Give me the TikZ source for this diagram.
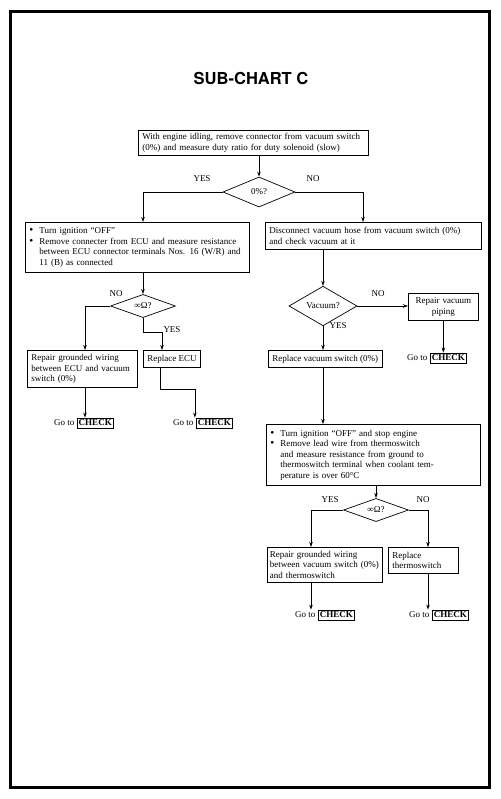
\documentclass[tikz,border=0pt]{standalone}
\usepackage{fontspec}
\setmainfont{Liberation Serif}
\newfontfamily\titlefont{TeX Gyre Heros}
\usetikzlibrary{arrows.meta,shapes.geometric,calc}
\newcommand{\chk}{{\setlength{\fboxsep}{1.5pt}\setlength{\fboxrule}{0.7pt}\fbox{\textbf{CHECK}}}}
\newcommand{\bul}{\makebox[10pt][l]{\smash{\scalebox{1.25}{\textbullet}}}}
\newcommand{\ind}{\hspace*{10pt}}
\begin{document}
\begin{tikzpicture}[x=1pt,y=-1pt,
  every node/.style={font=\fontsize{9}{10.5}\selectfont, inner sep=0pt},
  box/.style={draw, line width=0.7pt, align=left, inner xsep=4pt, inner ysep=3pt, anchor=north west},
  dia/.style={draw, diamond, line width=0.7pt, inner sep=0pt},
  arr/.style={-{Stealth[length=5pt,width=3.5pt]}, line width=0.7pt},
  lbl/.style={font=\fontsize{9}{10}\selectfont},
  goto/.style={font=\fontsize{9}{10}\selectfont}
]
\useasboundingbox (0,0) rectangle (500,799);
\draw[line width=3pt] (10,12) rectangle (489,787);
\node[font=\titlefont\bfseries\fontsize{16.5}{20}\selectfont] (title) at (251,78) {SUB-CHART C};

\node[box, text width=222pt, minimum height=24pt] (T) at (138,130)
  {With engine idling, remove connector from vacuum switch\\(0\%) and measure duty ratio for duty solenoid (slow)};
\node[dia, minimum width=72pt, minimum height=30pt] (D1) at (259,192) {0\%?};
\node[lbl] (y1) at (202,179) {YES};
\node[lbl] (n1) at (313,179) {NO};

\node[box, text width=216pt, minimum height=50pt] (L1) at (25,222)
  {\bul Turn ignition ``OFF''\\
   \bul Remove connecter from ECU and measure resistance\\
   \ind between ECU connector terminals Nos. 16 (W/R) and\\
   \ind 11 (B) as connected};
\node[box, text width=208pt, minimum height=27pt] (R1) at (265,222)
  {Disconnect vacuum hose from vacuum switch (0\%)\\and check vacuum at it};

\node[dia, minimum width=65pt, minimum height=22pt] (D2) at (143,306) {∞Ω?};
\node[lbl] (n2) at (116,294) {NO};
\node[lbl] (y2) at (172,330) {YES};
\node[box, text width=102pt, minimum height=37pt] (L2) at (27,350)
  {Repair grounded wiring\\between ECU and vacuum\\switch (0\%)};
\node[box, minimum height=17pt] (L3) at (143,350) {Replace ECU};
\node[goto] (G1) at (84,423) {Go to \chk};
\node[goto] (G2) at (203,423) {Go to \chk};

\node[dia, minimum width=68pt, minimum height=26pt] (D3) at (323,306) {Vacuum?};
\node[lbl] (n3) at (378,294) {NO};
\node[lbl] (y3) at (338,326) {YES};
\node[box, align=center, text width=62pt, minimum height=27pt] (R2) at (408,293) {Repair vacuum\\piping};
\node[goto] (G3) at (437,358) {Go to \chk};
\node[box, minimum height=17pt] (R3) at (268,350) {Replace vacuum switch (0\%)};

\node[box, text width=206pt, minimum height=61pt] (R4) at (266,424)
  {\bul Turn ignition ``OFF'' and stop engine\\
   \bul Remove lead wire from thermoswitch\\
   \ind and measure resistance from ground to\\
   \ind thermoswitch terminal when coolant tem-\\
   \ind perature is over 60\textdegree C};
\node[dia, minimum width=65pt, minimum height=22pt] (D4) at (376,510) {∞Ω?};
\node[lbl] (y4) at (330,500) {YES};
\node[lbl] (n4) at (423,500) {NO};
\node[box, inner xsep=2.5pt, text width=110pt, minimum height=35pt] (R5) at (267,547)
  {Repair grounded wiring\\between vacuum switch (0\%)\\and thermoswitch};
\node[box, text width=62pt, minimum height=26pt] (R6) at (388,547) {Replace\\thermoswitch};
\node[goto] (G4) at (325,615) {Go to \chk};
\node[goto] (G5) at (439,615) {Go to \chk};

% bend / attachment points
\coordinate (r1in) at ($(R1.north west)+(98,0)$);
\coordinate (l2in) at ($(L2.north west)+(58,0)$);
\coordinate (l2out) at ($(L2.south west)+(58,0)$);
\coordinate (l3in) at ($(L3.north west)+(19,0)$);
\coordinate (l3out) at ($(L3.south west)+(17,0)$);
\coordinate (g2in) at ($(G2.north west)+(22,0)$);
\coordinate (r5in) at ($(R5.north west)+(44,0)$);
\coordinate (r5out) at ($(R5.south west)+(44,0)$);
\coordinate (r6in) at ($(R6.north west)+(40,0)$);
\coordinate (r6out) at ($(R6.south west)+(40,0)$);

% connectors
\draw[arr] (T.south -| D1.north) -- (D1.north);
\draw[arr] (D1.west) -| (D2.north |- L1.north);
\draw[arr] (D1.east) -| (r1in);
\draw[arr] (D2.north |- L1.south) -- (D2.north);
\draw[arr] (D3.north |- R1.south) -- (D3.north);
\draw[arr] (D2.west) -| (l2in);
\draw[arr] (l2out) -- (l2out |- G1.north);
\draw[arr] (D2.south) -- ++(0,14) -| (l3in);
\draw[arr] (l3out) -- ++(0,22) -| (g2in);
\draw[arr] (D3.east) -- (D3.east -| R2.west);
\draw[arr] (R2.south) -- (R2.south |- G3.north);
\draw[arr] (D3.south) -- (D3.south |- R3.north);
\draw[arr] (D3.south |- R3.south) -- (D3.south |- R4.north);
\draw[arr] (D4.north |- R4.south) -- (D4.north);
\draw[arr] (D4.west) -| (r5in);
\draw[arr] (D4.east) -| (r6in);
\draw[arr] (r5out) -- (r5out |- G4.north);
\draw[arr] (r6out) -- (r6out |- G5.north);
\end{tikzpicture}
\end{document}
